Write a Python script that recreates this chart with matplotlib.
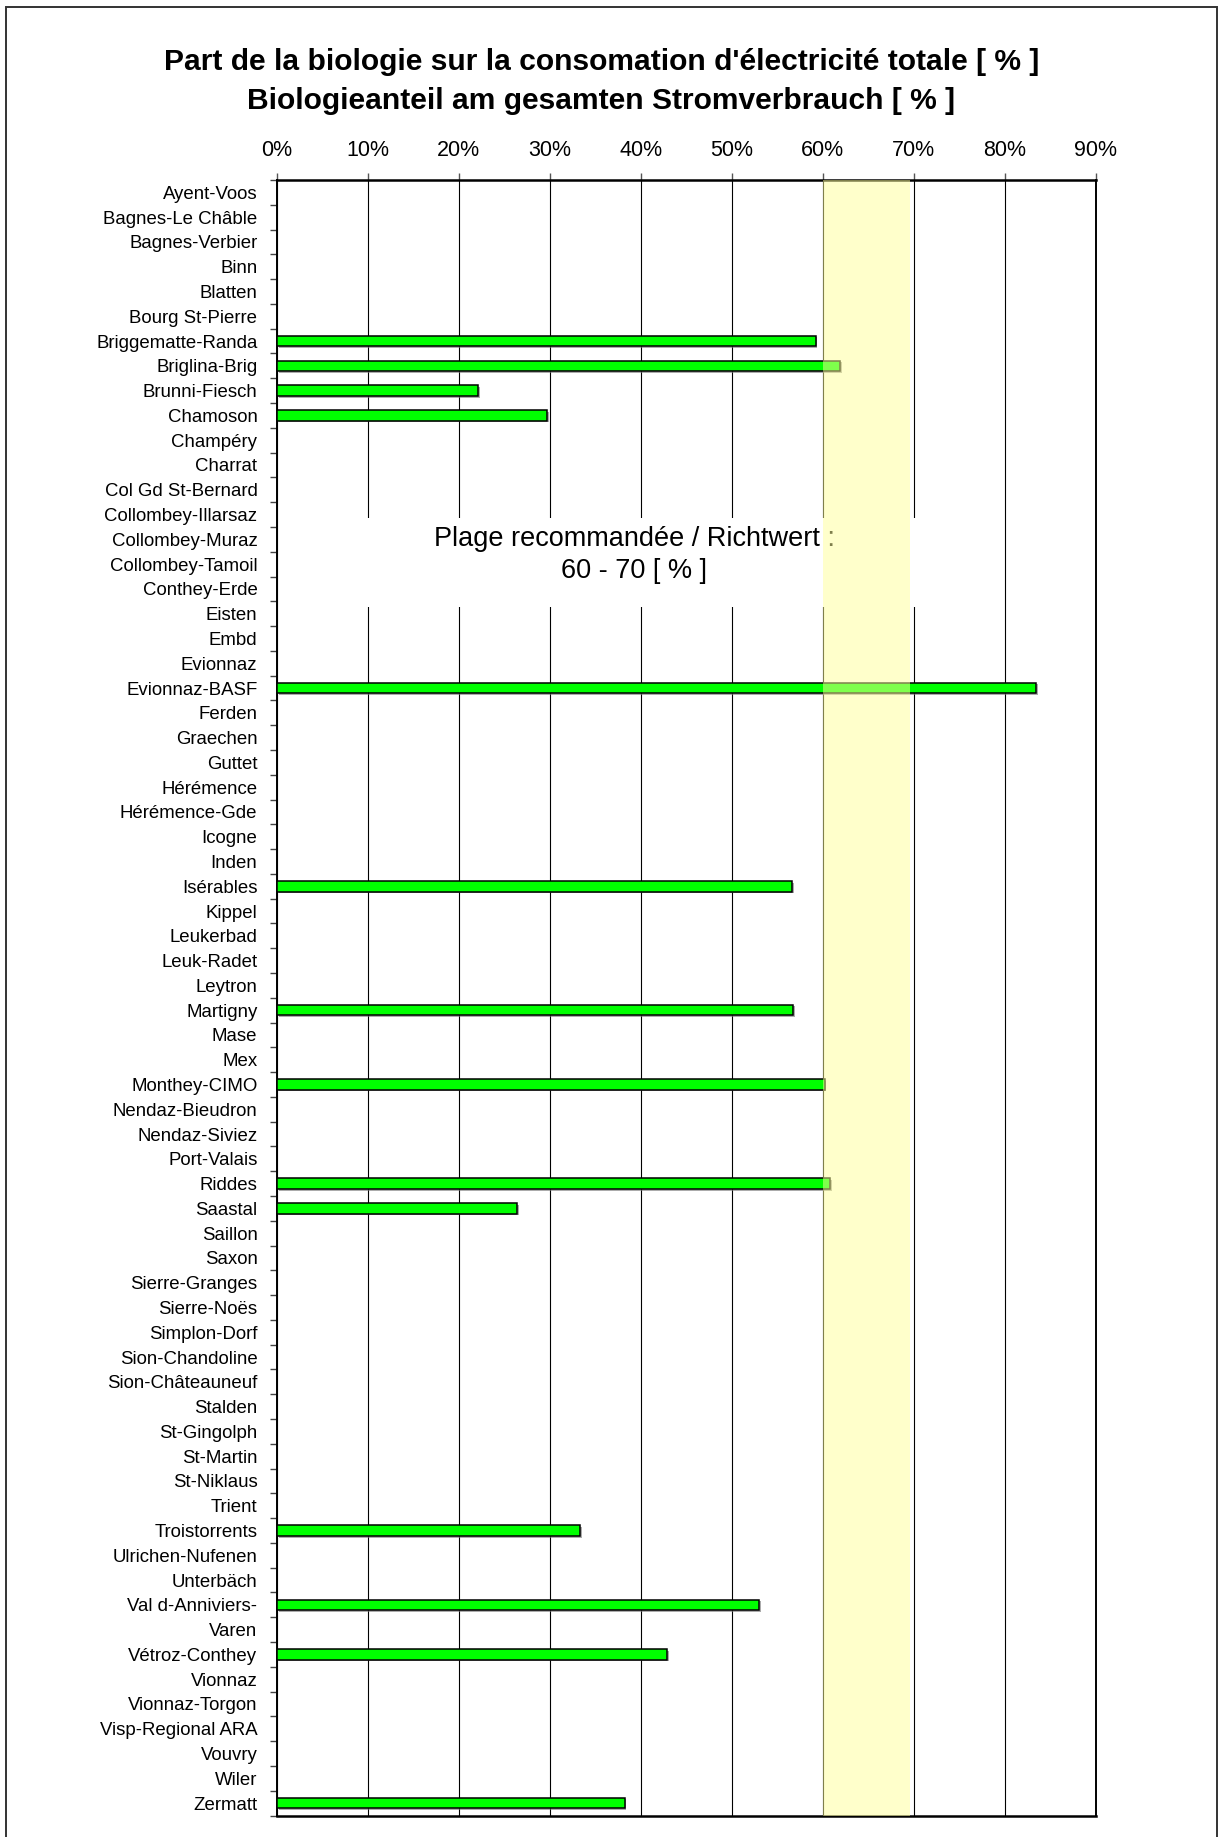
import numpy as np
import matplotlib
matplotlib.use("Agg")
import matplotlib.pyplot as plt
from matplotlib.patches import Rectangle
from matplotlib.ticker import FuncFormatter
import matplotlib.patheffects as pe

plt.rcParams['font.family'] = ['Liberation Sans', 'DejaVu Sans']

# STEP sites and share of biology in total electricity use [%]
sites = [
    "Ayent-Voos", "Bagnes-Le Châble", "Bagnes-Verbier", "Binn", "Blatten",
    "Bourg St-Pierre", "Briggematte-Randa", "Briglina-Brig", "Brunni-Fiesch",
    "Chamoson", "Champéry", "Charrat", "Col Gd St-Bernard", "Collombey-Illarsaz",
    "Collombey-Muraz", "Collombey-Tamoil", "Conthey-Erde", "Eisten", "Embd",
    "Evionnaz", "Evionnaz-BASF", "Ferden", "Graechen", "Guttet", "Hérémence",
    "Hérémence-Gde", "Icogne", "Inden", "Isérables", "Kippel", "Leukerbad",
    "Leuk-Radet", "Leytron", "Martigny", "Mase", "Mex", "Monthey-CIMO",
    "Nendaz-Bieudron", "Nendaz-Siviez", "Port-Valais", "Riddes", "Saastal",
    "Saillon", "Saxon", "Sierre-Granges", "Sierre-Noës", "Simplon-Dorf",
    "Sion-Chandoline", "Sion-Châteauneuf", "Stalden", "St-Gingolph", "St-Martin",
    "St-Niklaus", "Trient", "Troistorrents", "Ulrichen-Nufenen", "Unterbäch",
    "Val d-Anniviers-", "Varen", "Vétroz-Conthey", "Vionnaz", "Vionnaz-Torgon",
    "Visp-Regional ARA", "Vouvry", "Wiler", "Zermatt",
]

# only the sites with a measured value
measured = {
    "Briggematte-Randa": 59.2,
    "Briglina-Brig": 61.9,
    "Brunni-Fiesch": 22.1,
    "Chamoson": 29.7,
    "Evionnaz-BASF": 83.4,
    "Isérables": 56.6,
    "Martigny": 56.7,
    "Monthey-CIMO": 60.2,
    "Riddes": 60.8,
    "Saastal": 26.4,
    "Troistorrents": 33.3,
    "Val d-Anniviers-": 53.0,
    "Vétroz-Conthey": 42.9,
    "Zermatt": 38.2,
}

x_ticks = [0, 10, 20, 30, 40, 50, 60, 70, 80, 90]
target_low, target_high = 60, 70

fig = plt.figure(figsize=(12.2, 18.37), dpi=100)
ax = fig.add_axes([0.2270, 0.0117, 0.6713, 0.8903])

y = np.arange(len(sites))
shares = np.array([measured.get(s, np.nan) for s in sites])
has_value = ~np.isnan(shares)

bars = ax.barh(y[has_value], shares[has_value], height=0.43, color="#00FF00",
               edgecolor="black", linewidth=1.1, zorder=3)
for b in bars:
    b.set_path_effects([pe.SimplePatchShadow(offset=(1.2, -1.2), shadow_rgbFace="0.45", alpha=0.6),
                        pe.Normal()])

ax.set_xlim(0, 90)
ax.set_ylim(len(sites) - 0.5, -0.5)

# recommended range, drawn over the bars
ax.axvspan(target_low, target_high - 0.4, color="#FFFF99", alpha=0.5, lw=0, zorder=4)

# white text box hiding the grid
ax.add_patch(Rectangle((0.05, 0.7392), 0.78, 0.0544, transform=ax.transAxes,
                       facecolor="white", edgecolor="none", zorder=3.5))
ax.text(0.436, 0.771, "Plage recommandée / Richtwert :\n60 - 70 [ % ]",
        transform=ax.transAxes, ha="center", va="center", fontsize=19.5,
        linespacing=1.3, zorder=3.6)

# x axis on top
ax.xaxis.tick_top()
ax.set_xticks(x_ticks)
ax.xaxis.set_major_formatter(FuncFormatter(lambda v, p: f"{v:.0f}%"))
ax.tick_params(axis="x", which="major", direction="out", length=5, width=1,
               color="#555555", labelsize=15.5, pad=8.5)
ax.xaxis.grid(True, color="black", linewidth=0.8)
ax.set_axisbelow(True)

# y axis: labels at centres, ticks at boundaries
ax.set_yticks(y)
ax.set_yticklabels(sites)
ax.set_yticks(np.arange(-0.5, len(sites), 1), minor=True)
ax.tick_params(axis="y", which="major", length=0, labelsize=13.4, pad=14)
ax.tick_params(axis="y", which="minor", direction="out", length=5, width=1, color="#444444")

for side, lw in (("top", 1.8), ("bottom", 1.8), ("left", 1.4), ("right", 1.4)):
    ax.spines[side].set_linewidth(lw)
    ax.spines[side].set_color("black")

fig.text(0.493, 1 - 62 / 1837, "Part de la biologie sur la consomation d'électricité totale [ % ]",
         ha="center", va="center", fontsize=21.6, fontweight="bold")
fig.text(0.493, 1 - 101 / 1837, "Biologieanteil am gesamten Stromverbrauch [ % ]",
         ha="center", va="center", fontsize=21.6, fontweight="bold")

# outer frame
fig.patches.append(Rectangle((0.0049, -0.01), 0.9924, 1.01 - 7 / 1837, transform=fig.transFigure,
                             fill=False, edgecolor="#333333", linewidth=1.4))

fig.savefig("out.png", dpi=100)
